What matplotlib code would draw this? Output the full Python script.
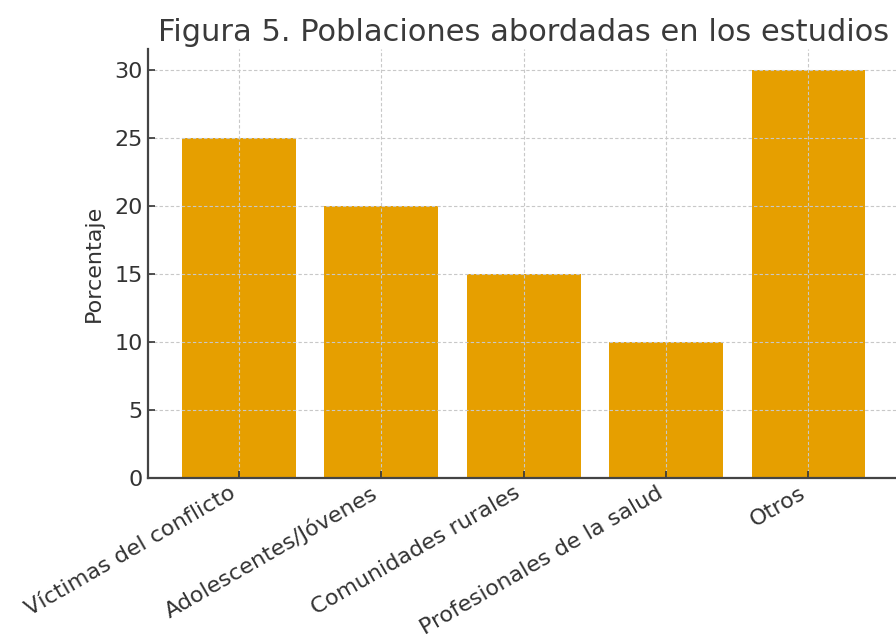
import matplotlib
matplotlib.use("Agg")
import matplotlib.pyplot as plt

# ---- data ----------------------------------------------------------------------------
categorias = [
    "Víctimas del conflicto",
    "Adolescentes/Jóvenes",
    "Comunidades rurales",
    "Profesionales de la salud",
    "Otros",
]
porcentajes = [25, 20, 15, 10, 30]

BAR = "#E69F00"
TEXT = "#333333"

plt.rcParams.update({
    "font.family": "DejaVu Sans",
    "text.color": TEXT,
    "axes.labelcolor": TEXT,
    "xtick.color": TEXT,
    "ytick.color": TEXT,
    "axes.edgecolor": "#444444",
})

fig = plt.figure(figsize=(8.96, 6.42), dpi=100)
ax = fig.add_axes([0.165, 0.2555, 0.839, 0.668])

ax.bar(categorias, porcentajes, color=BAR, width=0.8)
ax.grid(True, linestyle=(0, (3, 2)), color="#c8c8c8", linewidth=0.8)
ax.spines["top"].set_visible(False)
ax.spines["right"].set_visible(False)
ax.spines["left"].set_linewidth(1.6)
ax.spines["bottom"].set_linewidth(1.6)
ax.tick_params(axis="both", direction="in", labelsize=16, length=5, width=1.2)
ax.set_yticks([0, 5, 10, 15, 20, 25, 30])
plt.setp(ax.get_xticklabels(), rotation=30, ha="right", fontsize=16)

ax.set_ylabel("Porcentaje", fontsize=16, labelpad=8)
ax.set_title("Figura 5. Poblaciones abordadas en los estudios", fontsize=22, pad=6, color="#3a3a3a")

fig.savefig("out.png", dpi=100)
